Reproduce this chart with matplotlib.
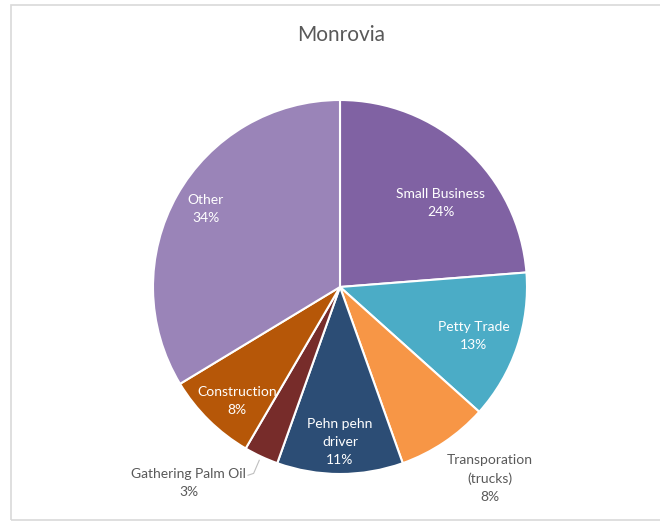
import numpy as np
import matplotlib.pyplot as plt
from matplotlib.patches import Rectangle

# Monrovia occupations (share in %)
labels = ['Small Business', 'Petty Trade', 'Transporation\n(trucks)', 'Pehn pehn\ndriver',
          'Gathering Palm Oil', 'Construction', 'Other']
shares = [24, 13, 8, 11, 3, 8, 34]
colors = ['#8062A3', '#4BACC6', '#F79646', '#2C4D75', '#772C2A', '#B65708', '#9A84B8']

plt.rcParams['font.family'] = ['Lato', 'DejaVu Sans']

fig = plt.figure(figsize=(6.6, 5.22), dpi=100)

# light grey chart frame
fig.patches.append(Rectangle((11 / 660, 2 / 522), 1.0, 515 / 522, transform=fig.transFigure,
                             fill=False, edgecolor='#D9D9D9', linewidth=1.2))

cx, cy, r = 340, 287, 187
ax = fig.add_axes([(cx - r) / 660, (522 - cy - r) / 522, 2 * r / 660, 2 * r / 522])
wedges, _ = ax.pie(shares, colors=colors, startangle=90, counterclock=False, radius=1,
                   wedgeprops=dict(edgecolor='white', linewidth=1.5))
ax.set_xlim(-1, 1)
ax.set_ylim(-1, 1)
ax.set_aspect('auto')
ax.axis('off')

# label placement per slice: (radius, angle shift in degrees); outside labels grey
label_pos = [(0.70, -7.5), (0.76, -1.4), (1.30, 4.2), (0.83, 0), None, (0.82, 2.5), (0.83, -0.6)]
for w, lab, v, pos in zip(wedges, labels, shares, label_pos):
    mid = (w.theta1 + w.theta2) / 2
    text = f'{lab}\n{v}%'
    if pos is None:
        # Gathering Palm Oil: outside with leader line
        a = np.deg2rad(mid)
        ex, ey = np.cos(a), np.sin(a)
        ax.plot([ex - 0.01, ex - 0.04, ex - 0.07], [ey - 0.02, ey - 0.09, ey - 0.10],
                color='#BFBFBF', lw=0.8, clip_on=False)
        ax.text(-0.81, -1.05, text, ha='center', va='center', color='#595959',
                fontsize=10, linespacing=1.6)
        continue
    lr, shift = pos
    a = np.deg2rad(mid + shift)
    col = '#595959' if lr > 1 else 'white'
    ax.text(lr * np.cos(a), lr * np.sin(a), text, ha='center', va='center', color=col,
            fontsize=10, linespacing=1.6)

fig.text(341 / 660, 1 - 35 / 522, 'Monrovia', ha='center', va='center', fontsize=15,
         color='#595959')

fig.savefig('out.png', dpi=100)
